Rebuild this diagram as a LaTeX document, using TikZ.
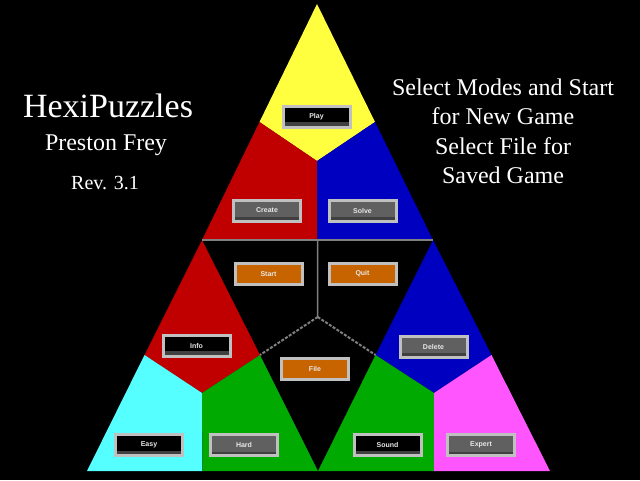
\documentclass[tikz,border=0pt]{standalone}
\usepackage{fontspec}
\setmainfont{Liberation Serif}
\newfontfamily\btnfont{Liberation Sans}
\definecolor{cyel}{HTML}{FFFF40}
\definecolor{cred}{HTML}{C00000}
\definecolor{cblue}{HTML}{0000C0}
\definecolor{ccyan}{HTML}{55FFFF}
\definecolor{cgreen}{HTML}{00AA00}
\definecolor{cpink}{HTML}{FF55FF}
\definecolor{corange}{HTML}{C86400}
\definecolor{frame}{HTML}{C0C0C0}
\definecolor{facegray}{HTML}{606060}
\definecolor{bandgray}{HTML}{404040}
\definecolor{lgray}{HTML}{808080}
\definecolor{btntext}{HTML}{E8E8E8}
\tikzset{
  btnbase/.style={draw=frame, line width=3pt, minimum width=67pt, minimum height=21pt,
    inner sep=0pt, text=btntext, font=\btnfont\bfseries\fontsize{7}{7}\selectfont},
  btnblack/.style={btnbase, fill=black, path picture={\fill[bandgray] (path picture bounding box.south west) rectangle ([yshift=5pt]path picture bounding box.south east);}},
  btngray/.style={btnbase, fill=facegray, path picture={\fill[bandgray] (path picture bounding box.south west) rectangle ([yshift=4pt]path picture bounding box.south east);}},
  btnorange/.style={btnbase, fill=corange, path picture={\fill[bandgray] (path picture bounding box.south west) rectangle ([yshift=2pt]path picture bounding box.south east);}},
  divider/.style={draw=lgray, line width=2pt, dash pattern=on 3pt off 1.5pt},
  title/.style={text=white, inner sep=0pt},
}
\begin{document}
\begin{tikzpicture}[x=1pt,y=-1pt]
\fill[black] (0,0) rectangle (640,480);
\useasboundingbox (0,0) rectangle (640,480);
% key points
\coordinate (A) at (317,4);
\coordinate (L) at (202,240);
\coordinate (R) at (433,240);
\coordinate (B) at (87,471);
\coordinate (C) at (550,471);
\coordinate (M) at (318,471);
\coordinate (T) at (317,161);
\coordinate (AL) at (259.5,122);
\coordinate (AR) at (375,122);
\coordinate (LR) at (317.5,240);
\coordinate (G1) at (202,393);
\coordinate (LB) at (144.5,355);
\coordinate (BM) at (202.5,471);
\coordinate (LM) at (260,355);
\coordinate (G2) at (434,393);
\coordinate (RM) at (375.5,355);
\coordinate (MC) at (434,471);
\coordinate (RC) at (491.5,355);
\coordinate (G0) at (317.7,317);
% regions
\fill[cyel] (A) -- (AL) -- (T) -- (AR) -- cycle;
\fill[cred] (AL) -- (L) -- (LR) -- (T) -- cycle;
\fill[cblue] (AR) -- (R) -- (LR) -- (T) -- cycle;
\fill[cred] (L) -- (LB) -- (G1) -- (LM) -- cycle;
\fill[ccyan] (LB) -- (B) -- (BM) -- (G1) -- cycle;
\fill[cgreen] (BM) -- (M) -- (LM) -- (G1) -- cycle;
\fill[cblue] (R) -- (RM) -- (G2) -- (RC) -- cycle;
\fill[cgreen] (RM) -- (M) -- (MC) -- (G2) -- cycle;
\fill[cpink] (MC) -- (C) -- (RC) -- (G2) -- cycle;
% dividers
\draw[draw=lgray, line width=1.5pt] (L) -- (R);
\draw[draw=lgray, line width=1.5pt] (LR) -- (G0);
\draw[divider] (G0) -- (LM);
\draw[divider] (G0) -- (RM);
% buttons
\node[btnblack] (play) at (316.5,116.5) {Play};
\node[btngray] (create) at (267,210.5) {Create};
\node[btngray] (send) at (362.5,210.5) {Solve};
\node[btnorange] (start) at (268.5,274) {Start};
\node[btnorange] (quit) at (362.5,274) {Quit};
\node[btnorange] (file) at (315,369) {File};
\node[btnblack] (info) at (196.5,345.5) {Info};
\node[btngray] (delete) at (433.5,346.5) {Delete};
\node[btnblack] (easy) at (149,445) {Easy};
\node[btngray] (hard) at (244,445) {Hard};
\node[btnblack] (sound) at (387.5,445) {Sound};
\node[btngray] (expert) at (481,445) {Expert};
% titles
\node[title, font=\fontsize{34}{34}\selectfont] (hexi) at (108,106) {HexiPuzzles};
\node[title, font=\fontsize{24}{24}\selectfont] (author) at (106,145) {Preston Frey};
\node[title, font=\fontsize{20}{20}\selectfont] (rev) at (105,183) {Rev. 3.1};
\node[title, font=\fontsize{24}{24}\selectfont] (l1) at (503,87) {Select Modes and Start};
\node[title, font=\fontsize{24}{24}\selectfont] (l2) at (503,116) {for New Game};
\node[title, font=\fontsize{24}{24}\selectfont] (l3) at (503,146) {Select File for};
\node[title, font=\fontsize{24}{24}\selectfont] (l4) at (503,175) {Saved Game};
\end{tikzpicture}
\end{document}
